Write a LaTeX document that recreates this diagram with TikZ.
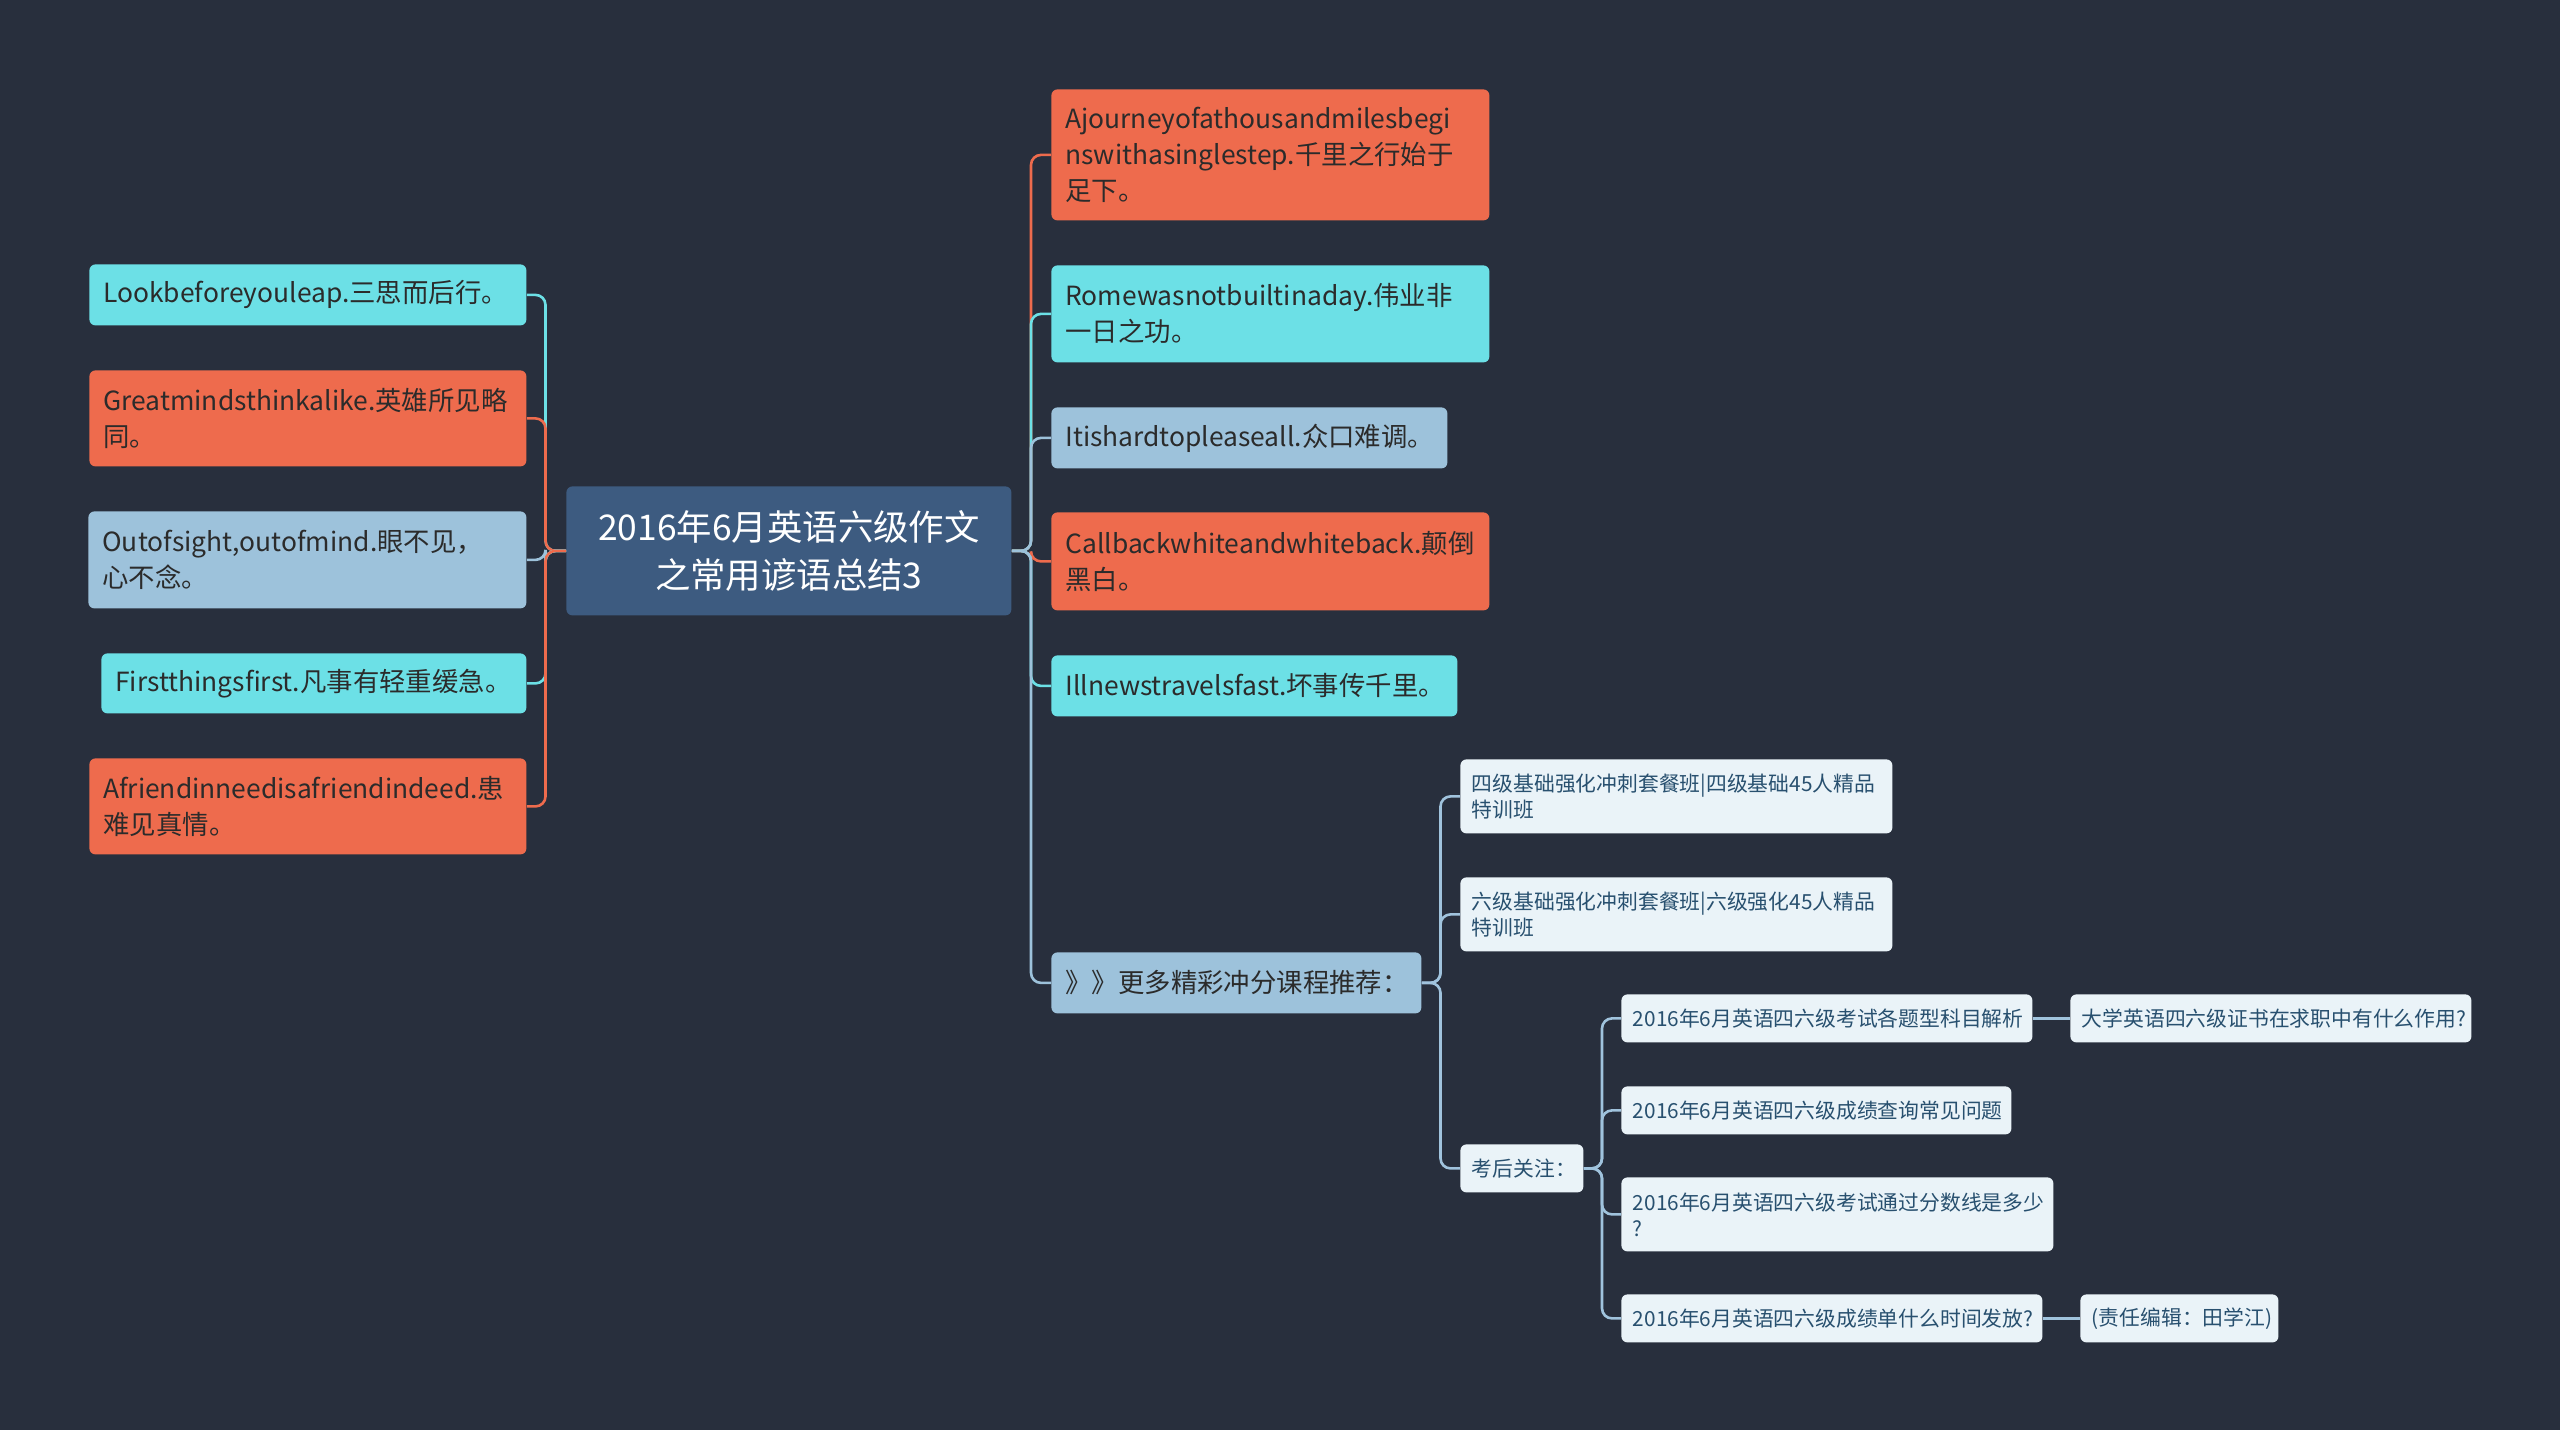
\documentclass[tikz,border=0pt]{standalone}
\usepackage{fontspec}
\setmainfont{Noto Sans CJK SC}
\definecolor{bg}{HTML}{282F3D}
\definecolor{cOrange}{HTML}{EE6B4D}
\definecolor{cCyan}{HTML}{6CE0E6}
\definecolor{cLBlue}{HTML}{9DC2DB}
\definecolor{cCenter}{HTML}{3D5B80}
\definecolor{cWhite}{HTML}{EAF3F8}
\definecolor{cWText}{HTML}{28506F}
\definecolor{cPText}{HTML}{2B2B2B}
\definecolor{cSub}{HTML}{A0C3DD}
\begin{document}
\begin{tikzpicture}[x=0.5pt,y=-0.5pt]
\tikzset{
  pbox/.style={rounded corners=3pt, inner xsep=7pt, inner ysep=0pt, align=left, anchor=north west,
    font=\fontsize{13.2}{18}\selectfont, text=cPText},
  obox/.style={pbox, fill=cOrange},
  cbox/.style={pbox, fill=cCyan},
  lbox/.style={pbox, fill=cLBlue},
  centerbox/.style={rounded corners=3pt, inner xsep=7pt, inner ysep=0pt, align=center, anchor=north west,
    fill=cCenter, text=white, font=\fontsize{17.7}{23.7}\selectfont},
  wbox/.style={rounded corners=3pt, inner xsep=5.75pt, inner ysep=0pt, align=left, anchor=north west,
    fill=cWhite, text=cWText, font=\fontsize{10.4}{13}\selectfont},
  link/.style={line width=1.3pt, rounded corners=5pt},
}
\useasboundingbox (0,0) rectangle (2560,1430);
\fill[bg] (0,0) rectangle (2560,1430);

% center
\node[centerbox, text width=208.5pt, minimum height=64.5pt] (c) at (566,486) {2016年6月英语六级作文\\之常用谚语总结3};

% left
\node[cbox, text width=204.5pt, minimum height=30.5pt] (l1) at (89,264) {Lookbeforeyouleap.三思而后行。};
\node[obox, text width=204.5pt, minimum height=48pt] (l2) at (89,370) {Greatmindsthinkalike.英雄所见略\\同。};
\node[lbox, text width=205pt, minimum height=48.5pt] (l3) at (88,511) {Outofsight,outofmind.眼不见，\\心不念。};
\node[cbox, text width=198.5pt, minimum height=30pt] (l4) at (101,653) {Firstthingsfirst.凡事有轻重缓急。};
\node[obox, text width=204.5pt, minimum height=48pt] (l5) at (89,758) {Afriendinneedisafriendindeed.患\\难见真情。};

% right
\node[obox, text width=205pt, minimum height=65.5pt] (r1) at (1051,89) {Ajourneyofathousandmilesbegi\\nswithasinglestep.千里之行始于\\足下。};
\node[cbox, text width=205pt, minimum height=48.5pt] (r2) at (1051,265) {Romewasnotbuiltinaday.伟业非\\一日之功。};
\node[lbox, text width=184pt, minimum height=30.5pt] (r3) at (1051,407) {Itishardtopleaseall.众口难调。};
\node[obox, text width=205pt, minimum height=49pt] (r4) at (1051,512) {Callbackwhiteandwhiteback.颠倒\\黑白。};
\node[cbox, text width=189pt, minimum height=30.5pt] (r5) at (1051,655) {Illnewstravelsfast.坏事传千里。};
\node[lbox, text width=171pt, minimum height=30.5pt] (r6) at (1051,952) {》》更多精彩冲分课程推荐：};

% sub of r6
\node[wbox, text width=204.5pt, minimum height=37pt] (m1) at (1460,759) {四级基础强化冲刺套餐班|四级基础45人精品\\特训班};
\node[wbox, text width=204.5pt, minimum height=37pt] (m2) at (1460,877) {六级基础强化冲刺套餐班|六级强化45人精品\\特训班};
\node[wbox, text width=50pt, minimum height=24pt] (m3) at (1460,1144) {考后关注：};

% sub of m3
\node[wbox, text width=194pt, minimum height=24pt] (k1) at (1621,994) {2016年6月英语四六级考试各题型科目解析};
\node[wbox, text width=189pt, minimum height=24pt] (k1a) at (2070,994) {大学英语四六级证书在求职中有什么作用?};
\node[wbox, text width=183.5pt, minimum height=24pt] (k2) at (1621,1086) {2016年6月英语四六级成绩查询常见问题};
\node[wbox, text width=204.5pt, minimum height=37pt] (k3) at (1621,1177) {2016年6月英语四六级考试通过分数线是多少\\?};
\node[wbox, text width=199pt, minimum height=24pt] (k4) at (1621,1294) {2016年6月英语四六级成绩单什么时间发放?};
\node[wbox, text width=87.5pt, minimum height=24pt] (k4a) at (2080,1294) {(责任编辑：田学江)};

% trunks
\coordinate (tL) at (545.5,0);
\coordinate (tR) at (1031,0);
\coordinate (tM) at (1440.5,0);
\coordinate (tK) at (1602,0);

% left connectors
\draw[link, cCyan]   (c.west) -- (c.west -| tL) -- (tL |- l1.east) -- (l1.east);
\draw[link, cOrange] (c.west) -- (c.west -| tL) -- (tL |- l2.east) -- (l2.east);
\draw[link, cLBlue]  (c.west) -- (c.west -| tL) -- (tL |- l3.east) -- (l3.east);
\draw[link, cCyan]   (c.west) -- (c.west -| tL) -- (tL |- l4.east) -- (l4.east);
\draw[link, cOrange] (c.west) -- (c.west -| tL) -- (tL |- l5.east) -- (l5.east);

% right connectors
\draw[link, cOrange] (c.east) -- (c.east -| tR) -- (tR |- r1.west) -- (r1.west);
\draw[link, cCyan]   (c.east) -- (c.east -| tR) -- (tR |- r2.west) -- (r2.west);
\draw[link, cLBlue]  (c.east) -- (c.east -| tR) -- (tR |- r3.west) -- (r3.west);
\draw[link, cOrange] (c.east) -- (c.east -| tR) -- (tR |- r4.west) -- (r4.west);
\draw[link, cCyan]   (c.east) -- (c.east -| tR) -- (tR |- r5.west) -- (r5.west);
\draw[link, cLBlue]  (c.east) -- (c.east -| tR) -- (tR |- r6.west) -- (r6.west);

% r6 sub connectors
\draw[link, cSub] (r6.east) -- (r6.east -| tM) -- (tM |- m1.west) -- (m1.west);
\draw[link, cSub] (r6.east) -- (r6.east -| tM) -- (tM |- m2.west) -- (m2.west);
\draw[link, cSub] (r6.east) -- (r6.east -| tM) -- (tM |- m3.west) -- (m3.west);

% m3 sub connectors
\draw[link, cSub] (m3.east) -- (m3.east -| tK) -- (tK |- k1.west) -- (k1.west);
\draw[link, cSub] (m3.east) -- (m3.east -| tK) -- (tK |- k2.west) -- (k2.west);
\draw[link, cSub] (m3.east) -- (m3.east -| tK) -- (tK |- k3.west) -- (k3.west);
\draw[link, cSub] (m3.east) -- (m3.east -| tK) -- (tK |- k4.west) -- (k4.west);

\draw[link, cSub] (k1.east) -- (k1a.west);
\draw[link, cSub] (k4.east) -- (k4a.west);
\end{tikzpicture}
\end{document}
